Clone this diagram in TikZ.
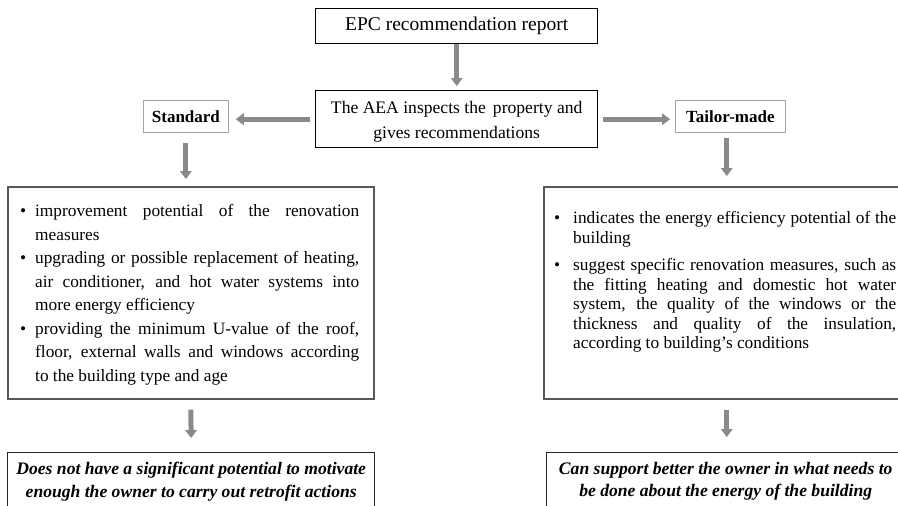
\documentclass[tikz,border=0pt]{standalone}
\usepackage{fontspec}
\setmainfont{Liberation Serif}
\usetikzlibrary{arrows.meta}

\definecolor{arrowgray}{RGB}{138,138,138}
\definecolor{framegray}{RGB}{88,88,88}
\definecolor{tagframe}{RGB}{165,165,165}

% one bullet entry with a hanging indent
\newcommand\listentry[2]{\par\noindent\hangindent=#1\hangafter=1\makebox[#1][l]{\textbullet}#2\par}

\tikzset{
  headbox/.style={draw=black, line width=1.4pt, inner sep=0pt, align=center,
    font=\fontsize{19.5}{25}\selectfont},
  tagbox/.style={draw=tagframe, line width=0.8pt, inner sep=0pt,
    font=\fontsize{17}{20}\selectfont\bfseries},
  listframe/.style={draw=framegray, line width=1.6pt, inner sep=0pt},
  listtext/.style={inner sep=0pt, align=justify, anchor=north west},
  resultbox/.style={draw=black!85, line width=1.4pt, inner sep=0pt, align=center,
    font=\fontsize{17.6}{22}\selectfont\bfseries\itshape},
  flow/.style={draw=arrowgray, line width=5pt,
    -{Triangle[width=12pt,length=8pt,line width=0pt]}},
}

\begin{document}
\begin{tikzpicture}[x=1pt,y=-1pt]
\useasboundingbox (0,0) rectangle (898,506);
\clip (0,0) rectangle (898,506);
\hyphenpenalty=10000
\exhyphenpenalty=10000
\tolerance=10000

% top of the flow
\node[headbox, minimum width=282pt, minimum height=35pt, anchor=north west]
  (epc) at (315,8) {EPC recommendation report};
\node[headbox, minimum width=282pt, minimum height=57pt, anchor=north west,
  font=\fontsize{17.6}{25}\selectfont]
  (aea) at (315,90) {\rule{0pt}{17pt}The AEA inspects the\hspace{0.4em}property and\\gives recommendations};

% the two kinds of report
\node[tagbox, minimum width=85pt, minimum height=32pt, anchor=north west]
  (std) at (143,100) {Standard};
\node[tagbox, minimum width=110pt, minimum height=32pt, anchor=north west]
  (tm) at (675,100) {Tailor-made};

% content of each report
\node[listframe, minimum width=366pt, minimum height=212pt, anchor=north west]
  (lbox) at (7,186) {};
\node[listtext, text width=339pt, font=\fontsize{17.3}{23.5}\selectfont]
  (ltext) at (20,193) {%
  \listentry{15pt}{improvement potential of the renovation\linebreak measures}%
  \listentry{15pt}{upgrading or possible replacement of heating,\linebreak air conditioner, and hot water systems into\linebreak more energy efficiency}%
  \listentry{15pt}{providing the minimum U-value of the roof,\linebreak floor, external walls and windows according\linebreak to the building type and age}};

\node[listframe, minimum width=366pt, minimum height=212pt, anchor=north west]
  (rbox) at (543,186) {};
\node[listtext, text width=342pt, font=\fontsize{17.3}{19.5}\selectfont]
  (rtext) at (554,204) {%
  \listentry{19pt}{indicates the energy efficiency potential of the\linebreak building}%
  \vspace{8pt}%
  \listentry{19pt}{suggest specific renovation measures, such as\linebreak the fitting heating and domestic hot water\linebreak system, the quality of the windows or the\linebreak thickness and quality of the insulation,\linebreak according to building's conditions}};

% outcomes
\node[resultbox, minimum width=367pt, minimum height=58pt, anchor=north west]
  (lres) at (7,452) {Does not have a significant potential to motivate\\enough the owner to carry out retrofit actions};
\node[resultbox, minimum width=358pt, minimum height=58pt, anchor=north west]
  (rres) at (546,452) {Can support better the owner in what needs to\\be done about the energy of the building};

% connectors
\draw[flow, shorten >=4pt] (epc.south) -- (aea.north);
\draw[flow, shorten <=5pt, shorten >=7pt] (aea.west) -- (aea.west -| std.east);
\draw[flow, shorten <=5pt, shorten >=5pt] (aea.east) -- (aea.east -| tm.west);
\draw[flow, shorten <=10pt, shorten >=7pt] (std.south) -- (std.south |- lbox.north);
\draw[flow, shorten <=5pt, shorten >=10pt] (rbox.north |- tm.south) -- (rbox.north);
\draw[flow, shorten <=10pt, shorten >=14pt] (lbox.south) -- (lres.north);
\draw[flow, shorten <=10pt, shorten >=15pt] (rbox.south) -- (rbox.south |- rres.north);
\end{tikzpicture}
\end{document}
